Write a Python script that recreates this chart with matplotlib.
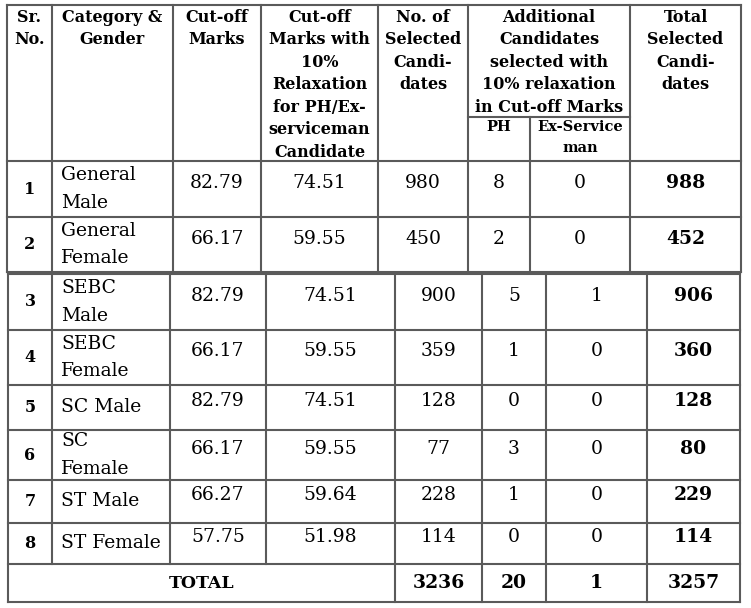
import matplotlib.pyplot as plt

# table content
sr_no = ["1", "2", "3", "4", "5", "6", "7", "8"]
category = ["General\nMale", "General\nFemale", "SEBC\nMale", "SEBC\nFemale",
            "SC Male", "SC\nFemale", "ST Male", "ST Female"]
cutoff = ["82.79", "66.17", "82.79", "66.17", "82.79", "66.17", "66.27", "57.75"]
cutoff_relax = ["74.51", "59.55", "74.51", "59.55", "74.51", "59.55", "59.64", "51.98"]
selected = [980, 450, 900, 359, 128, 77, 228, 114]
ph = [8, 2, 5, 1, 0, 3, 1, 0]
ex_service = [0, 0, 1, 0, 0, 0, 0, 0]
total_selected = [988, 452, 906, 360, 128, 80, 229, 114]
grand_total = ["3236", "20", "1", "3257"]

headers = ["Sr.\nNo.", "Category &\nGender", "Cut-off\nMarks",
           "Cut-off\nMarks with\n10%\nRelaxation\nfor PH/Ex-\nserviceman\nCandidate",
           "No. of\nSelected\nCandi-\ndates",
           "Additional\nCandidates\nselected with\n10% relaxation\nin Cut-off Marks",
           "Total\nSelected\nCandi-\ndates"]
sub_headers = ["PH", "Ex-Service\nman"]

# layout (pixel space) - the picture is two table pieces glued together
x_top = [7, 52, 173, 261, 378, 468, 530, 630, 741]
x_bot = [8, 52, 170, 266, 395, 482, 546, 647, 740]
y_top = [5, 161, 217, 272]
y_sub = 117
y_bot = [274, 330, 385, 430, 480, 523, 564, 602]

fig = plt.figure(figsize=(7.51, 6.08), dpi=100)
ax = fig.add_axes([0, 0, 1, 1])
ax.set_xlim(0, 751)
ax.set_ylim(608, 0)
ax.axis("off")

lc = "#5a5a5a"
lw = 1.5
serif = "DejaVu Serif"

# grid of top piece
for y in y_top:
    ax.plot([x_top[0], x_top[-1]], [y, y], color=lc, lw=lw)
ax.plot([x_top[5], x_top[7]], [y_sub, y_sub], color=lc, lw=lw)
for i, x in enumerate(x_top):
    y0 = y_sub if i == 6 else y_top[0]
    ax.plot([x, x], [y0, y_top[-1]], color=lc, lw=lw)

# grid of bottom piece
for y in y_bot:
    ax.plot([x_bot[0], x_bot[-1]], [y, y], color=lc, lw=lw)
for i, x in enumerate(x_bot):
    y1 = y_bot[-2] if i in (1, 2, 3) else y_bot[-1]
    ax.plot([x, x], [y_bot[0], y1], color=lc, lw=lw)

# headers
hdr_cols = [(0, 1), (1, 2), (2, 3), (3, 4), (4, 5), (5, 7), (7, 8)]
for txt, (a, b) in zip(headers, hdr_cols):
    ax.text((x_top[a] + x_top[b]) / 2, 9, txt, ha="center", va="top",
            fontsize=11.5, fontweight="bold", family=serif, linespacing=1.42)
for txt, (a, b) in zip(sub_headers, [(5, 6), (6, 7)]):
    ax.text((x_top[a] + x_top[b]) / 2, 120, txt, ha="center", va="top",
            fontsize=10.5, fontweight="bold", family=serif, linespacing=1.6)

# data rows
row_edges = [(y_top[1], y_top[2]), (y_top[2], y_top[3])] + \
    [(y_bot[i], y_bot[i + 1]) for i in range(6)]
for r in range(8):
    xs = x_top if r < 2 else x_bot
    y0, y1 = row_edges[r]
    yc = (y0 + y1) / 2
    yv = yc - 6
    cx = [(xs[i] + xs[i + 1]) / 2 for i in range(8)]
    ax.text(cx[0], yc, sr_no[r], ha="center", va="center", fontsize=11.5,
            fontweight="bold", family=serif)
    ax.text(xs[1] + 9, yc, category[r], ha="left", va="center", fontsize=13.5,
            family=serif, linespacing=1.65)
    vals = [cutoff[r], cutoff_relax[r], str(selected[r]), str(ph[r]), str(ex_service[r])]
    for j, v in enumerate(vals):
        ax.text(cx[j + 2], yv, v, ha="center", va="center", fontsize=13.5, family=serif)
    ax.text(cx[7], yv, str(total_selected[r]), ha="center", va="center",
            fontsize=13.5, fontweight="bold", family=serif)

# total row
yt = (y_bot[-2] + y_bot[-1]) / 2
ax.text((x_bot[0] + x_bot[4]) / 2, yt, "TOTAL", ha="center", va="center",
        fontsize=12.5, fontweight="bold", family=serif)
for j, v in enumerate(grand_total):
    ax.text((x_bot[4 + j] + x_bot[5 + j]) / 2, yt, v, ha="center", va="center",
            fontsize=13.5, fontweight="bold", family=serif)

fig.savefig("out.png", dpi=100, facecolor="white")
